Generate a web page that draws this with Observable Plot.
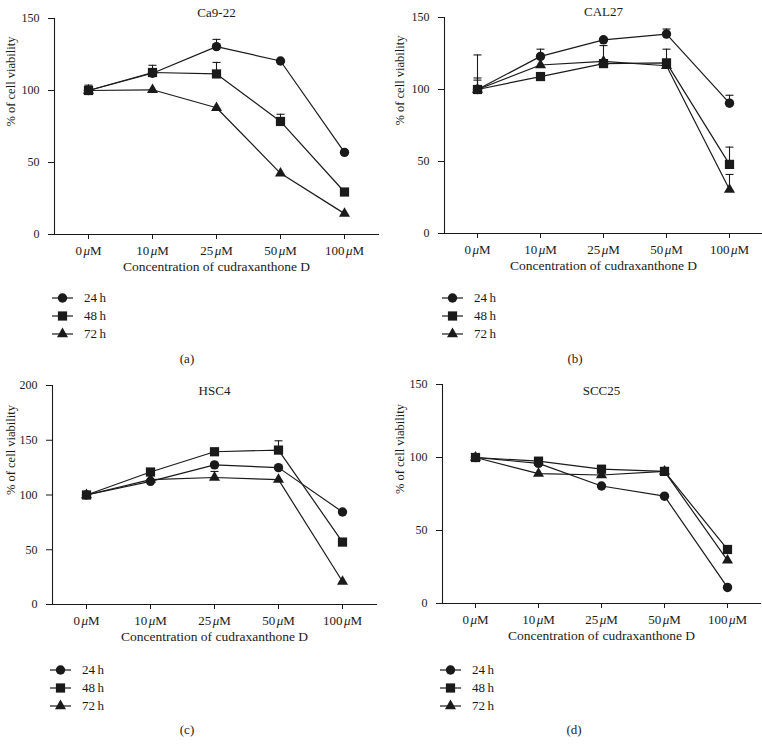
<!DOCTYPE html>
<html>
<head>
<meta charset="utf-8">
<script src="https://cdn.jsdelivr.net/npm/d3@7"></script>
<script src="https://cdn.jsdelivr.net/npm/@observablehq/plot@0.6"></script>
<style>
  body { margin: 0; background: #fff; }
  #root { position: relative; width: 762px; height: 749px; overflow: hidden; background: #fff;
          font-family: "Liberation Serif", "DejaVu Serif", serif; color: #1a1a1a; }
  .abs { position: absolute; }
  .legend-row { display: flex; align-items: center; height: 18px; font-size: 13px; }
  .legend-row span { margin-left: 10px; }
  .caption { font-size: 13px; transform: translate(-50%, -50%); white-space: nowrap; }
</style>
</head>
<body>
<div id="root"></div>
<script>
// ---------- data ----------
const concentrations = ["0μM", "10μM", "25μM", "50μM", "100μM"];
const timepoints = ["24\u2009h", "48\u2009h", "72\u2009h"];
const xTitle = "Concentration of cudraxanthone D";
const yTitle = "% of cell viability";

const ca922_24h = [100, 112, 130.5, 120.5, 57];
const ca922_48h = [100, 112.5, 111.5, 78.5, 29.5];
const ca922_72h = [100, 100.5, 88, 42.5, 14.5];
const ca922_sd_24h = [0, 0, 5, 0, 0];
const ca922_sd_48h = [3.7, 5, 8, 5, 0];
const ca922_sd_72h = [0, 0, 0, 0, 0];

const cal27_24h = [100, 123, 134.5, 138.5, 90.5];
const cal27_48h = [100, 109, 118, 118.5, 48];
const cal27_72h = [100, 117, 119.5, 116.5, 30.5];
const cal27_sd_24h = [6.5, 5, 0, 3.5, 5.5];
const cal27_sd_48h = [24, 0, 0, 9.5, 12];
const cal27_sd_72h = [8, 0, 11, 0, 10.5];

const hsc4_24h = [100, 112.5, 127.5, 125, 84.5];
const hsc4_48h = [100, 121, 139.5, 141, 57];
const hsc4_72h = [100, 114, 116, 114, 21];
const hsc4_sd_24h = [0, 0, 0, 0, 0];
const hsc4_sd_48h = [0, 0, 0, 8.5, 0];
const hsc4_sd_72h = [0, 0, 5.5, 0, 0];

const scc25_24h = [100, 96, 80.5, 73.5, 11];
const scc25_48h = [100, 97.5, 92, 90.5, 37];
const scc25_72h = [100, 89, 88, 90.5, 29.5];
const scc25_sd_24h = [0, 0, 0, 0, 0];
const scc25_sd_48h = [0, 0, 0, 0, 0];
const scc25_sd_72h = [0, 0, 0, 0, 0];

const panelTitles = ["Ca9-22", "CAL27", "HSC4", "SCC25"];
const panelCaptions = ["(a)", "(b)", "(c)", "(d)"];

// ---------- layout ----------
const layouts = [
  {left: 0,   top: 0,   ml: 54, mr: 3, mt: 18, mb: 46, ymax: 150, yticks: [0, 50, 100, 150], ylabDx: -44, titleDy: -11, legendTop: 298, capY: 359, capX: 187},
  {left: 381, top: 0,   ml: 63, mr: 0, mt: 17, mb: 47, ymax: 150, yticks: [0, 50, 100, 150], ylabDx: -45, titleDy: -11, legendTop: 298, capY: 359, capX: 194},
  {left: 0,   top: 370, ml: 52, mr: 5, mt: 15, mb: 46, ymax: 200, yticks: [0, 50, 100, 150, 200], ylabDx: -42, titleDy: 0, legendTop: 300, capY: 360, capX: 187},
  {left: 381, top: 370, ml: 61, mr: 2, mt: 14, mb: 47, ymax: 150, yticks: [0, 50, 100, 150], ylabDx: -43, titleDy: 1, legendTop: 300, capY: 360, capX: 193}
];
const panelValues = [
  [ca922_24h, ca922_48h, ca922_72h],
  [cal27_24h, cal27_48h, cal27_72h],
  [hsc4_24h, hsc4_48h, hsc4_72h],
  [scc25_24h, scc25_48h, scc25_72h]
];
const panelSds = [
  [ca922_sd_24h, ca922_sd_48h, ca922_sd_72h],
  [cal27_sd_24h, cal27_sd_48h, cal27_sd_72h],
  [hsc4_sd_24h, hsc4_sd_48h, hsc4_sd_72h],
  [scc25_sd_24h, scc25_sd_48h, scc25_sd_72h]
];

const symbols = ["circle", "square", "triangle"];
const radii = [4.7, 5.2, 4.1];
const INK = "#1a1a1a";
const FONT = '"Liberation Serif", "DejaVu Serif", serif';
const capSymbol = {draw(ctx) { ctx.moveTo(-4, 0); ctx.lineTo(4, 0); }};

const root = document.getElementById("root");
const W = 381, H = 280;

panelTitles.forEach((title, p) => {
  const L = layouts[p];
  const rows = [];
  timepoints.forEach((s, si) => {
    concentrations.forEach((c, ci) => {
      rows.push({conc: c, series: s, si, value: panelValues[p][si][ci], sd: panelSds[p][si][ci]});
    });
  });
  const errRows = rows.filter(d => d.sd > 0);

  const marks = [
    Plot.frame({anchor: "left", stroke: INK, strokeWidth: 1.1}),
    Plot.frame({anchor: "bottom", stroke: INK, strokeWidth: 1.1}),
    Plot.axisY({ticks: L.yticks, tickSize: 6, tickPadding: 9, fontSize: 12, label: null, stroke: INK}),
    Plot.axisX({tickSize: 5, tickPadding: 6, fontSize: 13, label: null, stroke: INK}),
    Plot.text([yTitle], {frameAnchor: "left", rotate: -90, dx: L.ylabDx, fontSize: 12.5, fill: INK}),
    Plot.text([xTitle], {frameAnchor: "bottom", dy: 36, fontSize: 13.5, fill: INK}),
    Plot.text([title], {frameAnchor: "top", dy: L.titleDy, fontSize: 13, fill: INK}),
    Plot.ruleX(errRows, {x: "conc", y1: "value", y2: d => d.value + d.sd, stroke: INK, strokeWidth: 1.1}),
    Plot.dot(errRows, {x: "conc", y: d => d.value + d.sd, symbol: capSymbol, r: 4, fill: "none", stroke: INK, strokeWidth: 1.1}),
    Plot.line(rows, {x: "conc", y: "value", z: "series", stroke: INK, strokeWidth: 1.2})
  ];
  [2, 1, 0].forEach(si => {
    marks.push(Plot.dot(rows.filter(d => d.si === si), {x: "conc", y: "value", symbol: symbols[si], r: radii[si], fill: INK, stroke: "none"}));
  });

  const chart = Plot.plot({
    width: W, height: H,
    marginLeft: L.ml, marginRight: L.mr, marginTop: L.mt, marginBottom: L.mb,
    x: {type: "point", domain: concentrations, padding: 0.5},
    y: {domain: [0, L.ymax]},
    style: {fontFamily: FONT, color: INK, background: "transparent", overflow: "visible"},
    marks
  });
  chart.style.position = "absolute";
  chart.style.left = L.left + "px";
  chart.style.top = L.top + "px";
  root.appendChild(chart);

  // italic μ in concentration tick labels
  chart.querySelectorAll('g[aria-label="x-axis tick label"] text').forEach(t => {
    const label = t.textContent;
    const m = label.match(/^(\d+)μ(M)$/);
    if (!m) return;
    t.textContent = "";
    const ns = "http://www.w3.org/2000/svg";
    const a = document.createElementNS(ns, "tspan"); a.textContent = m[1];
    const b = document.createElementNS(ns, "tspan"); b.textContent = "μ"; b.setAttribute("font-style", "italic"); b.setAttribute("dx", "1.5");
    const c = document.createElementNS(ns, "tspan"); c.textContent = m[2];
    t.append(a, b, c);
  });

  // legend
  const leg = document.createElement("div");
  leg.className = "abs";
  leg.style.left = (L.left + L.ml - 2) + "px";
  leg.style.top = (L.top + L.legendTop - 9) + "px";
  timepoints.forEach((s, si) => {
    const row = document.createElement("div");
    row.className = "legend-row";
    const sv = d3.create("svg").attr("width", 22).attr("height", 14);
    sv.append("line").attr("x1", 0).attr("x2", 21).attr("y1", 7).attr("y2", 7).attr("stroke", INK).attr("stroke-width", 1.2);
    sv.append("path").attr("transform", "translate(10.5,7)")
      .attr("d", d3.symbol(d3["symbol" + symbols[si][0].toUpperCase() + symbols[si].slice(1)], Math.PI * radii[si] * radii[si])())
      .attr("fill", INK);
    row.appendChild(sv.node());
    const sp = document.createElement("span");
    sp.textContent = s;
    row.appendChild(sp);
    leg.appendChild(row);
  });
  root.appendChild(leg);

  const cap = document.createElement("div");
  cap.className = "abs caption";
  cap.style.left = (L.left + L.capX) + "px";
  cap.style.top = (L.top + L.capY) + "px";
  cap.textContent = panelCaptions[p];
  root.appendChild(cap);
});
</script>
</body>
</html>
